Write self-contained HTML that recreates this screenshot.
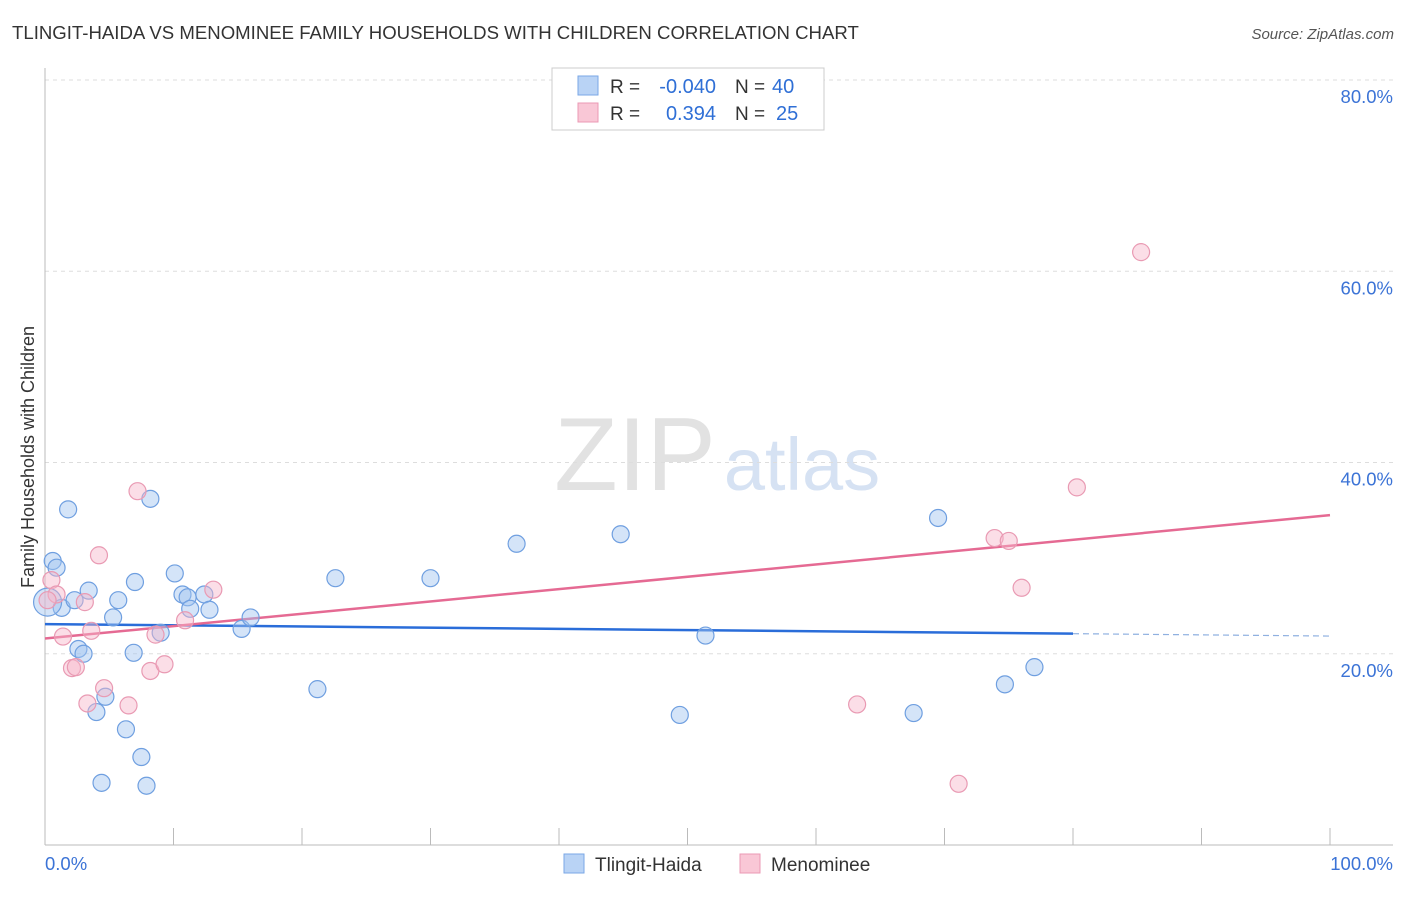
<!DOCTYPE html>
<html><head><meta charset="utf-8"><style>
body{margin:0;background:#fff;font-family:"Liberation Sans",sans-serif;}
svg text{font-family:"Liberation Sans",sans-serif;}
</style></head><body>
<svg id="chart" width="1406" height="892" xmlns="http://www.w3.org/2000/svg">
<text x="12" y="39" font-size="18.6" fill="#333">TLINGIT-HAIDA VS MENOMINEE FAMILY HOUSEHOLDS WITH CHILDREN CORRELATION CHART</text>
<text x="1394" y="39" font-size="15" fill="#555" font-style="italic" text-anchor="end">Source: ZipAtlas.com</text>
<g>
<text x="635" y="490" font-size="104" fill="#e2e2e2" font-family="Liberation Serif" text-anchor="middle">ZIP</text>
<text x="802" y="490" font-size="74" fill="#d6e2f3" text-anchor="middle">atlas</text>
</g>
<text transform="translate(34,457) rotate(-90)" font-size="18" fill="#333" text-anchor="middle">Family Households with Children</text>
<g id="grid"></g><g id="axes"></g><g id="lines"></g><g id="points"></g>
<g>
<rect x="552" y="68" width="272" height="62" fill="#fff" stroke="#ccc"/>
<rect x="578" y="76" width="20" height="19" fill="#b9d3f5" stroke="#7aa7e6"/>
<rect x="578" y="103" width="20" height="19" fill="#f9c7d6" stroke="#eb9ab4"/>
<text x="610" y="93" font-size="19" fill="#333">R =</text>
<text x="716" y="93" font-size="20" fill="#2f6fd6" text-anchor="end">-0.040</text>
<text x="735" y="93" font-size="19" fill="#333">N =</text>
<text x="772" y="93" font-size="20" fill="#2f6fd6">40</text>
<text x="610" y="120" font-size="19" fill="#333">R =</text>
<text x="716" y="120" font-size="20" fill="#2f6fd6" text-anchor="end">0.394</text>
<text x="735" y="120" font-size="19" fill="#333">N =</text>
<text x="776" y="120" font-size="20" fill="#2f6fd6">25</text>
</g>
<g>
<rect x="564" y="854" width="20" height="19" fill="#b9d3f5" stroke="#7aa7e6"/>
<text x="595" y="871" font-size="19" fill="#333">Tlingit-Haida</text>
<rect x="740" y="854" width="20" height="19" fill="#f9c7d6" stroke="#eb9ab4"/>
<text x="771" y="871" font-size="19" fill="#333">Menominee</text>
</g>
</svg>
<script>
const yTicks=[20,40,60,80];
const yTickLabels=["20.0%","40.0%","60.0%","80.0%"];
const xTicks=[0,10,20,30,40,50,60,70,80,90,100];
const blueX=[0.6,0.9,1.8,1.3,2.3,3.4,2.6,3.0,5.7,5.3,7.0,8.2,10.1,10.7,11.1,11.3,12.4,12.8,9.0,6.9,4.7,4.0,6.3,7.5,4.4,7.9,15.3,16.0,21.2,22.6,30.0,36.7,44.8,51.4,49.4,67.6,69.5,74.7,77.0,0.2];
const blueY=[29.7,29.0,35.1,24.8,25.6,26.6,20.5,20.0,25.6,23.8,27.5,36.2,28.4,26.2,25.9,24.7,26.2,24.6,22.2,20.1,15.5,13.9,12.1,9.2,6.5,6.2,22.6,23.8,16.3,27.9,27.9,31.5,32.5,21.9,13.6,13.8,34.2,16.8,18.6,25.4];
const pinkX=[0.5,0.9,0.2,3.1,1.4,3.6,4.2,2.1,2.4,4.6,3.3,6.5,7.2,8.6,8.2,9.3,10.9,13.1,63.2,71.1,73.9,75.0,76.0,80.3,85.3];
const pinkY=[27.7,26.2,25.6,25.4,21.8,22.4,30.3,18.5,18.6,16.4,14.8,14.6,37.0,22.0,18.2,18.9,23.5,26.7,14.7,6.4,32.1,31.8,26.9,37.4,62.0];
const blueTrend=[23.1,22.1]; // value at x=0 and x=80
const pinkTrend=[21.6,34.5]; // value at x=0 and x=100
const NS="http://www.w3.org/2000/svg";
const sx=v=>45+v*12.85, sy=v=>845-v*9.5625;
function mk(t,a,p){const e=document.createElementNS(NS,t);for(const k in a)e.setAttribute(k,a[k]);p.appendChild(e);return e;}
const grid=document.getElementById('grid'),axes=document.getElementById('axes'),lines=document.getElementById('lines'),pts=document.getElementById('points');
yTicks.forEach((v,i)=>{
 const l=mk('line',{x1:45,x2:1393,y1:sy(v),y2:sy(v),stroke:'#ddd','stroke-dasharray':'4,4'},grid);
 
 
 const t=mk('text',{x:1393,y:sy(v)+23,'font-size':18.5,fill:'#3b73d6','text-anchor':'end'},axes);
 t.textContent=yTickLabels[i];
 
 
});
let ax=mk('line',{x1:45,x2:45,y1:68,y2:845,stroke:'#bbb'},axes);


ax=mk('line',{x1:45,x2:1393,y1:845,y2:845,stroke:'#bbb'},axes);


xTicks.forEach(v=>{
 const l=mk('line',{x1:sx(v),x2:sx(v),y1:828,y2:845,stroke:'#bbb'},axes);
 
 
});
let t=mk('text',{x:45,y:870,'font-size':18.5,fill:'#3b73d6'},axes);t.textContent='0.0%';


t=mk('text',{x:1393,y:870,'font-size':18.5,fill:'#3b73d6','text-anchor':'end'},axes);t.textContent='100.0%';


function pt(x,y,fill,stroke,name,r){const c=mk('circle',{cx:sx(x),cy:sy(y),r:r,fill:fill,stroke:stroke,'stroke-width':1.2},pts);
 
 }
blueX.forEach((x,i)=>pt(x,blueY[i],'rgba(160,196,240,0.45)','#6f9fe0','tlingit-haida-point',i==blueX.length-1?14:8.5));
pinkX.forEach((x,i)=>pt(x,pinkY[i],'rgba(246,182,202,0.45)','#e99ab3','menominee-point',8.5));
const bs=(blueTrend[1]-blueTrend[0])/80;
let l=mk('line',{x1:sx(0),y1:sy(blueTrend[0]),x2:sx(80),y2:sy(blueTrend[1]),stroke:'#2a6dd9','stroke-width':2.5},lines);


l=mk('line',{x1:sx(80),y1:sy(blueTrend[1]),x2:sx(100),y2:sy(blueTrend[0]+bs*100),stroke:'#8fb0e0','stroke-width':1.2,'stroke-dasharray':'6,4'},lines);


l=mk('line',{x1:sx(0),y1:sy(pinkTrend[0]),x2:sx(100),y2:sy(pinkTrend[1]),stroke:'#e56a93','stroke-width':2.5},lines);


</script>
</body></html>
